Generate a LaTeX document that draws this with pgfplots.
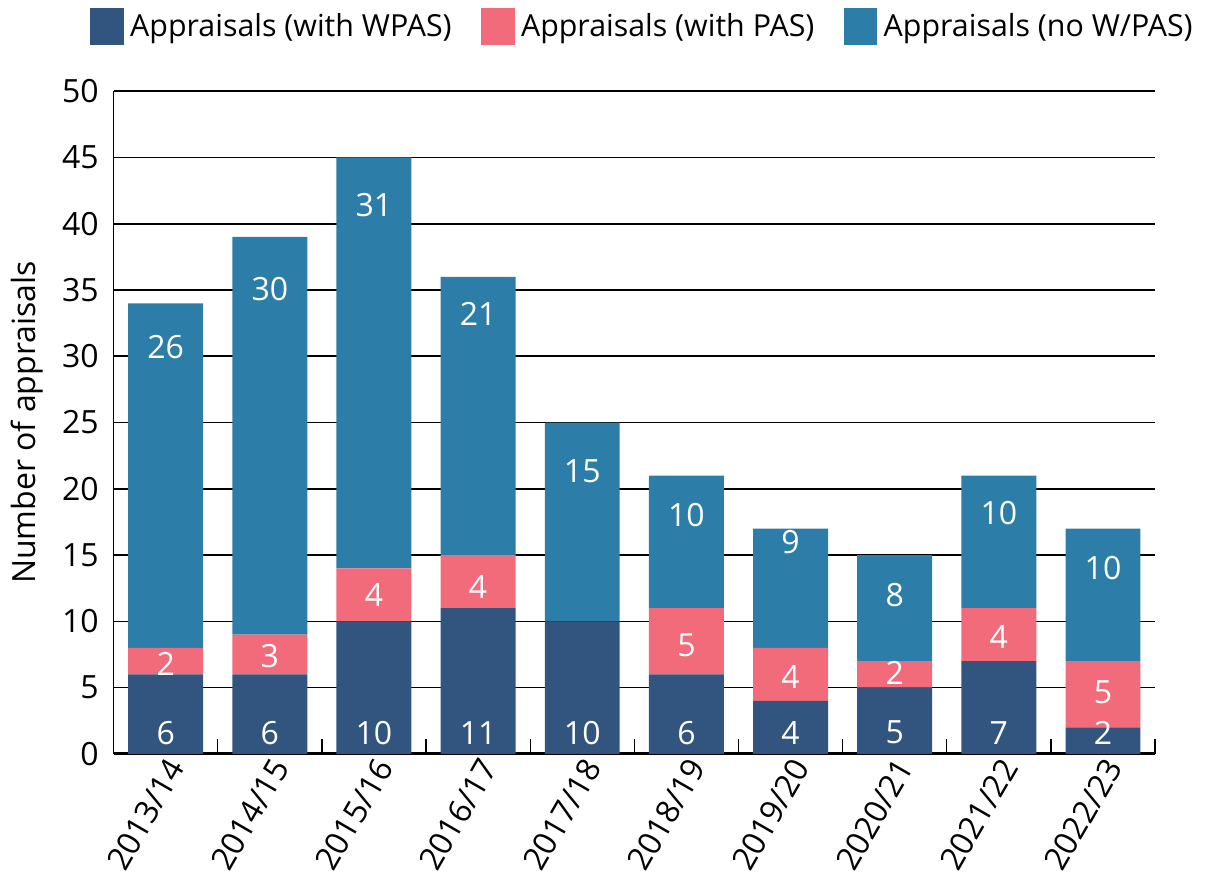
\documentclass[border=0pt]{standalone}
\usepackage{fontspec}
\setmainfont{Open Sans}
\usepackage{pgfplots}
\pgfplotsset{compat=1.18}
\usepackage{pgfplotstable}

\definecolor{wpas}{HTML}{325580}
\definecolor{pas}{HTML}{F26B7A}
\definecolor{nowpas}{HTML}{2C7EA8}

\pgfplotstableread{
x wpas pas none
0 6 2 26
1 6 3 30
2 10 4 31
3 11 4 21
4 10 0 15
5 6 5 10
6 4 4 9
7 5 2 8
8 7 4 10
9 2 5 10
}\appr

\newcommand{\fs}{\fontsize{9.8}{11.5}\selectfont}
\newcommand{\fl}{\fontsize{9.3}{11}\selectfont}

\begin{document}
\begin{tikzpicture}
\begin{axis}[
  scale only axis,
  width=319pt, height=203pt,
  ybar stacked, bar width=0.72,
  xmin=-0.5, xmax=9.5,
  ymin=0, ymax=50,
  ytick={0,5,...,50},
  xtick={0,...,9},
  xticklabels={2013/14,2014/15,2015/16,2016/17,2017/18,2018/19,2019/20,2020/21,2021/22,2022/23},
  minor xtick={-0.5,0.5,...,9.5},
  major x tick style={draw=none},
  minor x tick style={black, thin},
  minor tick length=4.5pt,
  tick align=inside,
  ytick style={draw=none},
  axis x line*=bottom, axis y line*=left,
  x axis line style={-, line width=0.9pt},
  y axis line style={-, thin},
  ymajorgrids, grid style={black, line width=0.5pt},
  /pgf/number format/assume math mode=true,
  tick label style={font=\fs},
  yticklabel style={xshift=-1pt},
  x tick label style={rotate=60, anchor=east, yshift=-4pt, xshift=3pt},
  ylabel={Number of appraisals},
  ylabel style={font=\fs, yshift=-1pt},
  legend style={at={(0.51,1.055)}, anchor=south, draw=none, font=\fl,
    legend columns=3, /tikz/every even column/.append style={column sep=7pt}},
  legend image code/.code={\fill[#1] (0cm,-0.19cm) rectangle (0.36cm,0.21cm);},
  every axis plot/.append style={draw=none},
]
\addplot[fill=wpas] table[x=x,y=wpas] {\appr};
\addplot[fill=pas] table[x=x,y=pas] {\appr};
\addplot[fill=nowpas] table[x=x,y=none] {\appr};
\legend{Appraisals (with WPAS),Appraisals (with PAS),Appraisals (no W/PAS)}

% label anchors for the segment values
\coordinate (a0) at (axis cs:0,1.6);
\coordinate (a1) at (axis cs:1,1.6);
\coordinate (a2) at (axis cs:2,1.6);
\coordinate (a3) at (axis cs:3,1.6);
\coordinate (a4) at (axis cs:4,1.6);
\coordinate (a5) at (axis cs:5,1.6);
\coordinate (a6) at (axis cs:6,1.6);
\coordinate (a7) at (axis cs:7,1.6);
\coordinate (a8) at (axis cs:8,1.6);
\coordinate (a9) at (axis cs:9,1.6);
\coordinate (b0) at (axis cs:0,6.8);
\coordinate (b1) at (axis cs:1,7.4);
\coordinate (b2) at (axis cs:2,12.0);
\coordinate (b3) at (axis cs:3,12.6);
\coordinate (b5) at (axis cs:5,8.2);
\coordinate (b6) at (axis cs:6,5.8);
\coordinate (b7) at (axis cs:7,6.1);
\coordinate (b8) at (axis cs:8,8.8);
\coordinate (b9) at (axis cs:9,4.65);
\coordinate (c0) at (axis cs:0,30.7);
\coordinate (c1) at (axis cs:1,35.1);
\coordinate (c2) at (axis cs:2,41.4);
\coordinate (c3) at (axis cs:3,33.2);
\coordinate (c4) at (axis cs:4,21.3);
\coordinate (c5) at (axis cs:5,18.0);
\coordinate (c6) at (axis cs:6,16.0);
\coordinate (c7) at (axis cs:7,12.0);
\coordinate (c8) at (axis cs:8,18.2);
\coordinate (c9) at (axis cs:9,14.0);
\end{axis}
\begin{scope}[every node/.style={text=white, font=\fs}]
\foreach \n/\v in {a0/6,a1/6,a2/10,a3/11,a4/10,a5/6,a6/4,a7/5,a8/7,a9/2,
  b0/2,b1/3,b2/4,b3/4,b5/5,b6/4,b7/2,b8/4,b9/5,
  c0/26,c1/30,c2/31,c3/21,c4/15,c5/10,c6/9,c7/8,c8/10,c9/10}
  \node at (\n) {\v};
\end{scope}
\end{tikzpicture}
\end{document}
